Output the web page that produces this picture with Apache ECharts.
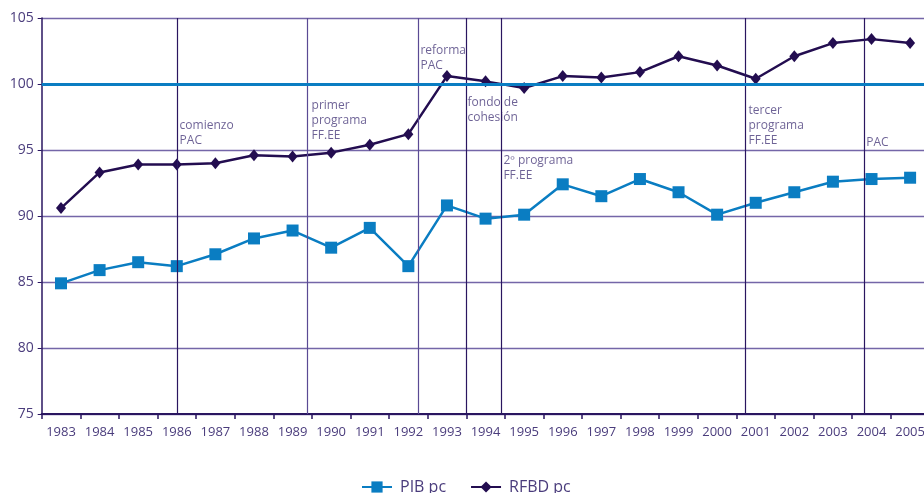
<!DOCTYPE html>
<html>
<head>
<meta charset="utf-8">
<script src="https://cdn.jsdelivr.net/npm/echarts@6/dist/echarts.min.js"></script>
<style>
  html, body { margin: 0; padding: 0; background: #fff; }
</style>
</head>
<body>
<!-- contenedor del gráfico -->
<div id="main" style="width: 924px; height: 493px"></div>
<script>
// datos
var years = ['1983', '1984', '1985', '1986', '1987', '1988', '1989', '1990', '1991', '1992', '1993', '1994',
  '1995', '1996', '1997', '1998', '1999', '2000', '2001', '2002', '2003', '2004', '2005'];
var pibPc = [84.9, 85.9, 86.5, 86.2, 87.1, 88.3, 88.9, 87.6, 89.1, 86.2, 90.8, 89.8,
  90.1, 92.4, 91.5, 92.8, 91.8, 90.1, 91.0, 91.8, 92.6, 92.8, 92.9];
var rfbdPc = [90.6, 93.3, 93.9, 93.9, 94.0, 94.6, 94.5, 94.8, 95.4, 96.2, 100.6, 100.2,
  99.7, 100.6, 100.5, 100.9, 102.1, 101.4, 100.4, 102.1, 103.1, 103.4, 103.1];
var yTicks = [75, 80, 85, 90, 95, 100, 105];
var baseLine = 100;

// hitos (en años)
var eventYears = [1986, 1989.37, 1992.26, 1993.5, 1994.41, 2000.74, 2003.81];
var noteText = ['comienzo\nPAC', 'primer\nprograma\nFF.EE', 'reforma\nPAC', 'fondo de\ncohesión',
  '2º programa\nFF.EE', 'tercer\nprograma\nFF.EE', 'PAC'];
var noteX = [1986.06, 1989.48, 1992.30, 1993.52, 1994.45, 2000.80, 2003.85];
var noteY = [97.5, 99.05, 103.22, 99.3, 94.89, 98.7, 96.21];

var txt = '#4a3c7c';
var dark = '#2a1660';
var grid = '#7466a8';
var lightEvents = [1, 2];

var myChart = echarts.init(document.getElementById('main'));

var option = {
  animation: false,
  textStyle: { fontFamily: 'Open Sans' },
  grid: { left: 41.7, top: 18, width: 887.7, bottom: 79, outerBoundsMode: 'none', containLabel: false },
  legend: {
    data: ['PIB pc', 'RFBD pc'],
    left: 356,
    top: 474,
    itemWidth: 30,
    itemHeight: 14,
    itemGap: 24,
    textStyle: { color: txt, fontSize: 16, fontFamily: 'Open Sans', padding: [0, 0, 0, 3] }
  },
  xAxis: [
    {
      type: 'category',
      data: years,
      boundaryGap: true,
      axisLine: { lineStyle: { color: dark, width: 2 } },
      axisTick: { show: true, length: 5, lineStyle: { color: dark, width: 1.5 } },
      axisLabel: { color: txt, fontSize: 13, margin: 12, interval: 0 },
      splitLine: { show: false }
    },
    {
      type: 'value',
      min: 1982.5,
      max: 2005.5,
      show: false
    }
  ],
  yAxis: {
    type: 'value',
    min: yTicks[0],
    max: yTicks[yTicks.length - 1],
    interval: 5,
    axisLine: { show: true, lineStyle: { color: dark, width: 1.5 } },
    axisTick: { show: true, length: 4, lineStyle: { color: dark } },
    axisLabel: { color: txt, fontSize: 14, margin: 8 },
    splitLine: { lineStyle: { color: grid, width: 1.3 } }
  },
  series: [
    {
      name: 'hitos',
      type: 'scatter',
      xAxisIndex: 1,
      symbolSize: 1,
      itemStyle: { color: 'transparent' },
      silent: true,
      z: 1,
      data: noteX.map(function (x, i) { return [x, noteY[i], noteText[i]]; }),
      label: {
        show: true,
        position: [0, 0],
        offset: [1, 2],
        align: 'left',
        verticalAlign: 'top',
        color: txt,
        fontSize: 12,
        lineHeight: 15,
        fontFamily: 'Open Sans',
        formatter: function (p) { return p.data[2]; }
      },
      markLine: {
        silent: true,
        symbol: 'none',
        label: { show: false },
        data: eventYears.map(function (y, i) {
          return {
            xAxis: y,
            lineStyle: { color: lightEvents.indexOf(i) >= 0 ? '#5a4a94' : dark, width: 1.2, type: 'solid' }
          };
        }).concat([{ yAxis: baseLine, lineStyle: { color: '#0a7dc2', width: 3, type: 'solid' } }])
      }
    },
    {
      name: 'PIB pc',
      type: 'line',
      data: pibPc,
      symbol: 'rect',
      symbolSize: 12,
      z: 3,
      itemStyle: { color: '#0a7dc2' },
      lineStyle: { color: '#0a7dc2', width: 2.5 }
    },
    {
      name: 'RFBD pc',
      type: 'line',
      data: rfbdPc,
      symbol: 'diamond',
      symbolSize: [10, 12],
      z: 4,
      itemStyle: { color: '#230d50' },
      lineStyle: { color: '#230d50', width: 2.5 }
    }
  ]
};

myChart.setOption(option);
</script>
</body>
</html>
